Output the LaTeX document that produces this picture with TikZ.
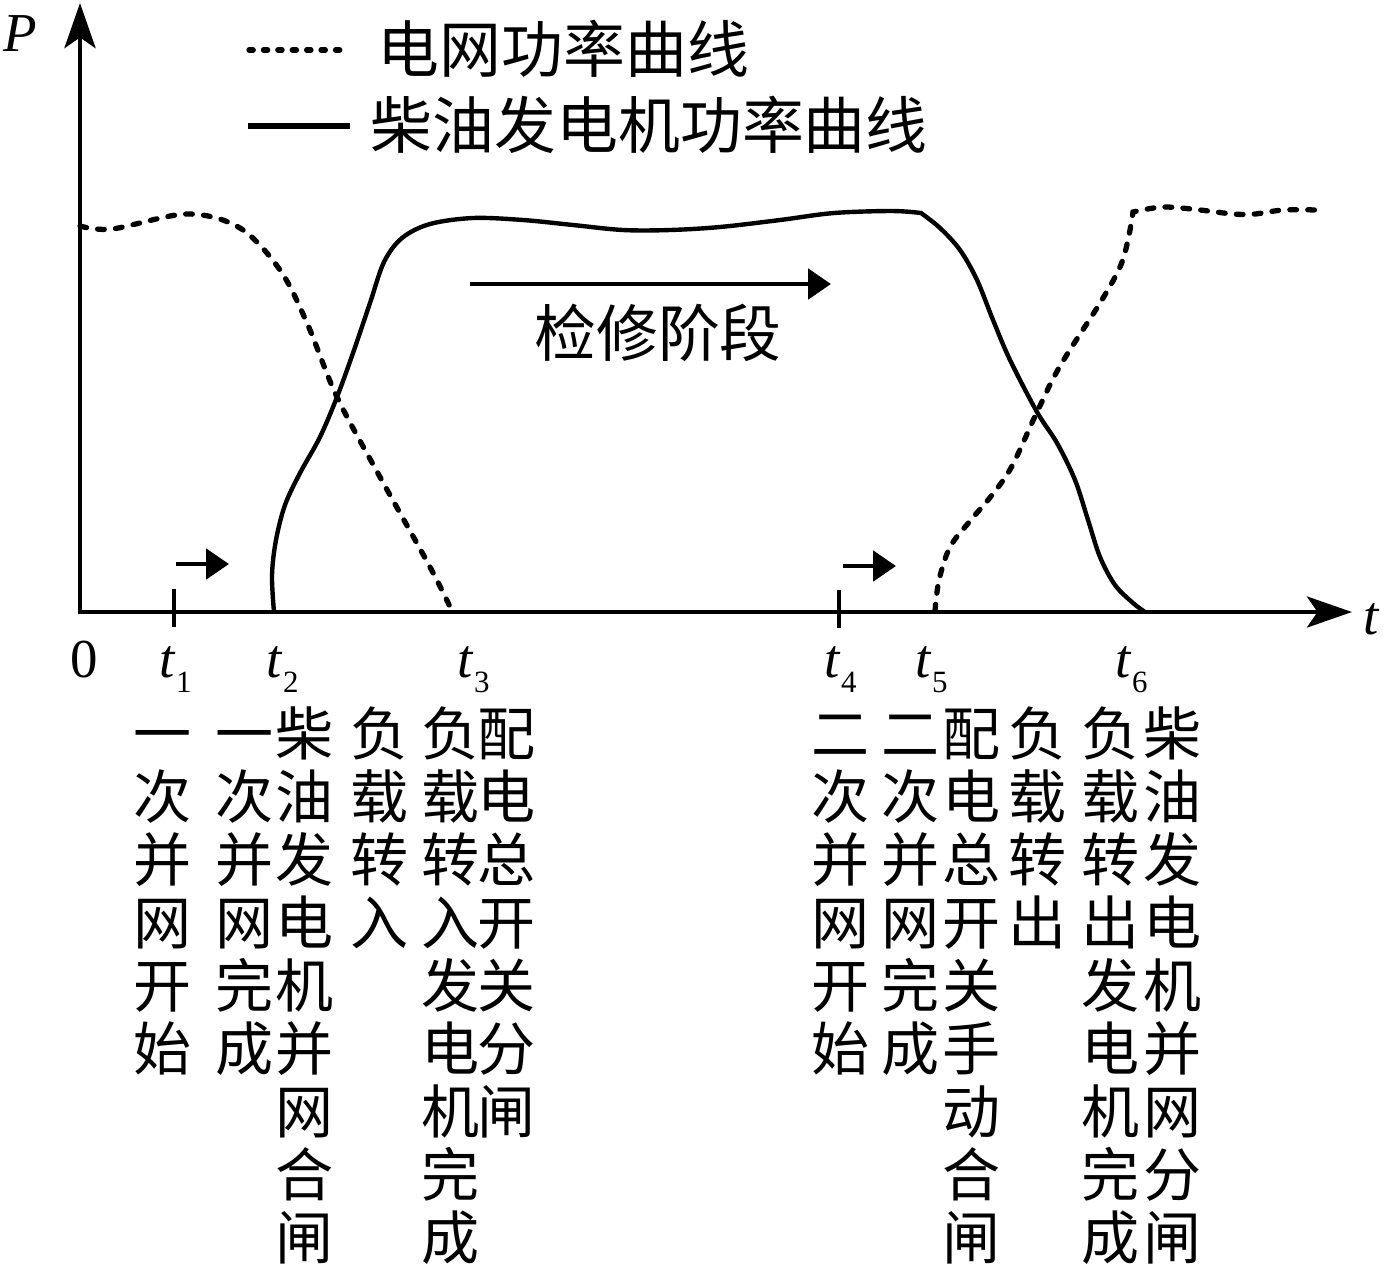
\documentclass[tikz,border=0pt]{standalone}
\usepackage{fontspec}
\setmainfont{Liberation Serif}
\newfontfamily\cjk{Noto Sans CJK SC}
\usetikzlibrary{arrows.meta}
\newcommand{\tsub}[1]{\textit{t}\raisebox{-4.5pt}{\fontsize{8.8}{8.8}\selectfont #1}}
\newcommand{\stackcol}[3]{%
  \foreach \ch [count=\k] in {#3}
    \node[colchar] (#1-\k) at (#2,{733+63*(\k-1)}) {\ch};}

\begin{document}
\begin{tikzpicture}[x=0.01cm, y=-0.01cm,
    axisline/.style={line width=1.4pt, {Stealth[length=12.8pt, width=8.8pt, inset=3pt]}-{Stealth[length=12.8pt, width=8.8pt, inset=3pt]}},
    gridline/.style={line width=1.5pt, line cap=round, dash pattern=on 1.9pt off 3.2pt},
    genline/.style={line width=1.25pt},
    tickline/.style={line width=1.4pt},
    markarrow/.style={line width=1.4pt, -{Triangle[length=6.5pt, width=8.5pt]}},
    legtext/.style={font=\cjk\fontsize{17.6}{17.6}\selectfont, inner sep=0pt},
    colchar/.style={font=\cjk\fontsize{16.5}{16.5}\selectfont, inner sep=0pt, text height=14.5pt, text depth=2pt},
    latin/.style={font=\fontsize{15.6}{15.6}\selectfont, inner sep=0pt, anchor=base west}]
    \useasboundingbox (0,0) rectangle (1395,1266);

    % legend
    \coordinate (la) at (249,50);
    \coordinate (lb) at (347,50);
    \coordinate (lc) at (248,126);
    \coordinate (ld) at (350,126);
    \draw[line width=1.5pt, line cap=round, dash pattern=on 1.2pt off 2.9pt] (la) -- (lb);
    \draw[line width=1.6pt] (lc) -- (ld);
    \node[legtext, anchor=west] (leg1) at (377,49) {电网功率曲线};
    \node[legtext, anchor=west] (leg2) at (370,125) {柴油发电机功率曲线};

    % axes
    \coordinate (O) at (80,612);
    \coordinate (ytop) at (80,3);
    \coordinate (xend) at (1352,612);
    \draw[axisline] (ytop) -- (O) -- (xend);
    \node[latin] (P) at (3,51) {\textit{P}};
    \node[latin] (tax) at (1363,634) {\textit{t}};
    \node[latin] (zero) at (70,677) {0};

    % ticks and small arrows
    \coordinate (k1a) at (174,589);
    \coordinate (k1b) at (174,627);
    \coordinate (k4a) at (839,590);
    \coordinate (k4b) at (839,628);
    \draw[tickline] (k1a) -- (k1b);
    \draw[tickline] (k4a) -- (k4b);
    \coordinate (m1a) at (176,564);
    \coordinate (m1b) at (229,564);
    \coordinate (m4a) at (843,566);
    \coordinate (m4b) at (896,566);
    \draw[markarrow] (m1a) -- (m1b);
    \draw[markarrow] (m4a) -- (m4b);

    % maintenance stage
    \coordinate (ba) at (470,284);
    \coordinate (bb) at (831,284);
    \draw[markarrow] (ba) -- (bb);
    \node[legtext] (stage) at (658,333) {检修阶段};

    % grid power
    \draw[gridline] plot[smooth, tension=0.55] coordinates {(80,226) (112,229) (187,214) (240,228) (280,270) (307,323) (337,397) (380,477) (430,567) (452,611)};
    \draw[gridline] plot[smooth, tension=0.55] coordinates {(935,611) (939,580) (950,547) (970,521) (992,495) (1012,466) (1037,412) (1060,366) (1100,303) (1120,267) (1128,240) (1133,212)}
        -- plot[smooth, tension=0.55] coordinates {(1133,212) (1163,207) (1200,210) (1233,214) (1255,214) (1283,210) (1318,210)};

    % diesel generator power
    \draw[genline] plot[smooth, tension=0.55] coordinates {(274,612) (272,575) (276,540) (285,505) (300,473) (320,437) (337,397) (353,353) (370,303) (384,262) (402,238) (430,224) (473,218) (523,220) (573,225) (623,230) (670,230) (720,227) (780,220) (834,213) (892,211) (921,213)}
        -- plot[smooth, tension=0.55] coordinates {(921,213) (940,228) (960,250) (977,280) (993,320) (1010,360) (1037,412) (1057,443) (1075,480) (1088,520) (1100,557) (1115,585) (1133,603) (1145,612)};

    % time labels
    \node[latin] (t1) at (159,677) {\tsub{1}};
    \node[latin] (t2) at (266,677) {\tsub{2}};
    \node[latin] (t3) at (457,677) {\tsub{3}};
    \node[latin] (t4) at (824,677) {\tsub{4}};
    \node[latin] (t5) at (915,677) {\tsub{5}};
    \node[latin] (t6) at (1115,677) {\tsub{6}};

    % event texts
    \stackcol{s1}{163}{一,次,并,网,开,始}
    \stackcol{s2}{245}{一,次,并,网,完,成}
    \stackcol{s3}{305}{柴,油,发,电,机,并,网,合,闸}
    \stackcol{s4}{380}{负,载,转,入}
    \stackcol{s5}{451}{负,载,转,入,发,电,机,完,成}
    \stackcol{s6}{506}{配,电,总,开,关,分,闸}
    \stackcol{s7}{840}{二,次,并,网,开,始}
    \stackcol{s8}{910}{二,次,并,网,完,成}
    \stackcol{s9}{971}{配,电,总,开,关,手,动,合,闸}
    \stackcol{s10}{1037}{负,载,转,出}
    \stackcol{s11}{1110}{负,载,转,出,发,电,机,完,成}
    \stackcol{s12}{1172}{柴,油,发,电,机,并,网,分,闸}
\end{tikzpicture}
\end{document}
